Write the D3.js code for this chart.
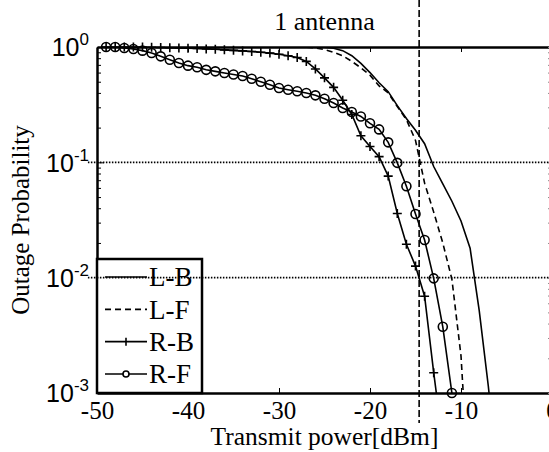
<!DOCTYPE html>
<html>
<head>
<meta charset="utf-8">
<script src="https://cdn.jsdelivr.net/npm/d3@7"></script>
<style>
  body { margin: 0; background: #fff; }
  svg { display: block; font-family: "Liberation Serif", "Times New Roman", serif; }
</style>
</head>
<body>
<svg id="chart" width="549" height="452"></svg>
<script>
// ---- data ----
var seriesNames = ['L-B', 'L-F', 'R-B', 'R-F'];

var lbX = [-50, -26, -25, -24, -23, -22, -21, -20, -19, -18, -17, -16, -15, -14, -13, -12, -11, -10, -9, -8, -7, -6];
var lbY = [1, 1, 0.995, 0.975, 0.93, 0.84, 0.72, 0.6, 0.49, 0.41, 0.31, 0.24, 0.19, 0.145, 0.092, 0.065, 0.046, 0.031, 0.018, 0.0052, 0.00115, 0.0002];

var lfX = [-50, -28, -27, -26, -25, -24, -23, -22, -21, -20, -19, -18, -17, -16, -15, -14, -13, -12, -11, -10, -9];
var lfY = [1, 1, 0.995, 0.98, 0.95, 0.9, 0.84, 0.75, 0.66, 0.57, 0.46, 0.40, 0.305, 0.235, 0.155, 0.066, 0.037, 0.02, 0.0097, 0.0021, 0.0001];

var rbX = [-49, -48, -47, -46, -45, -44, -43, -42, -41, -40, -39, -38, -37, -36, -35, -34, -33, -32, -31, -30,
           -29, -28, -27, -26, -25, -24, -23, -22, -21, -20, -19, -18, -17, -16, -15, -14, -13, -12];
var rbY = [1, 1, 1, 1, 0.998, 0.995, 0.99, 0.985, 0.98, 0.975, 0.97, 0.963, 0.955, 0.945, 0.935, 0.925, 0.915, 0.9, 0.885, 0.865,
           0.84, 0.81, 0.75, 0.645, 0.54, 0.447, 0.345, 0.26, 0.17, 0.137, 0.112, 0.076, 0.036, 0.0195, 0.0126, 0.0069, 0.0015, 0.00037];

var rfX = [-49, -48, -47, -46, -45, -44, -43, -42, -41, -40, -39, -38, -37, -36, -35, -34, -33, -32, -31, -30,
           -29, -28, -27, -26, -25, -24, -23, -22, -21, -20, -19, -18, -17, -16, -15, -14, -13, -12, -11];
var rfY = [1, 1, 0.98, 0.96, 0.93, 0.887, 0.83, 0.776, 0.727, 0.689, 0.667, 0.634, 0.615, 0.595, 0.578, 0.56, 0.53, 0.50, 0.47, 0.441,
           0.426, 0.413, 0.399, 0.381, 0.356, 0.327, 0.296, 0.273, 0.25, 0.218, 0.193, 0.149, 0.099, 0.062, 0.0356, 0.0212, 0.00986, 0.00375, 0.001];

var xTicks = [-50, -40, -30, -20, -10, 0];
var yTicks = [1e-3, 1e-2, 1e-1, 1];
var yExp = ['-3', '-2', '-1', '0'];
var gridLevels = [1e-1, 1e-2];
var markerPower = -14.6;   // the dashed vertical line
var titleText = '1 antenna';
var xLabel = 'Transmit power[dBm]';
var yLabel = 'Outage Probability';

// ---- layout ----
var W = 549, H = 452;
var m = { left: 97, right: 552, top: 47, bottom: 393 };

var svg = d3.select('#chart');

var x = d3.scaleLinear().domain([-50, 0]).range([m.left, m.right]);
var y = d3.scaleLog().domain([1e-3, 1]).range([m.bottom, m.top]);

var series = [
  { name: 'L-B', xs: lbX, ys: lbY, dash: null, marker: null },
  { name: 'L-F', xs: lfX, ys: lfY, dash: '6,4', marker: null },
  { name: 'R-B', xs: rbX, ys: rbY, dash: null, marker: 'plus' },
  { name: 'R-F', xs: rfX, ys: rfY, dash: null, marker: 'circle' }
];

svg.append('defs').append('clipPath').attr('id', 'plotClip')
  .append('rect')
  .attr('x', m.left).attr('y', m.top)
  .attr('width', m.right - m.left).attr('height', m.bottom - m.top);

// minor ticks for the log axis
var minor = [];
[1e-3, 1e-2, 1e-1].forEach(function (dec) {
  for (var k = 2; k <= 9; k++) minor.push(dec * k);
});

// ---- axes ----
svg.append('g')
  .attr('transform', 'translate(0,' + m.bottom + ')')
  .call(d3.axisBottom(x).tickValues(xTicks).tickSizeInner(-5).tickSizeOuter(0).tickPadding(8)
    .tickFormat(function (d) { return String(d); }))
  .call(function (g) {
    g.select('.domain').attr('stroke-width', 2.5);
    g.selectAll('text').attr('font-size', 25).attr('font-family', 'Liberation Serif').attr('fill', '#000');
  });

svg.append('g')
  .attr('transform', 'translate(0,' + m.top + ')')
  .call(d3.axisTop(x).tickValues(xTicks).tickSizeInner(-5).tickSizeOuter(0).tickFormat(''))
  .call(function (g) { g.select('.domain').attr('stroke-width', 2.5); });

var yAx = svg.append('g')
  .attr('transform', 'translate(' + m.left + ',0)')
  .call(d3.axisLeft(y).tickValues(yTicks).tickSizeInner(-7).tickSizeOuter(0).tickPadding(8).tickFormat(''))
  .call(function (g) { g.select('.domain').attr('stroke-width', 2.5); });

yAx.selectAll('.tick').each(function (d, i) {
  var t = d3.select(this).append('text')
    .attr('x', -8).attr('dy', '0.35em')
    .attr('text-anchor', 'end')
    .attr('fill', '#000')
    .attr('font-size', 25);
  t.append('tspan').text('10');
  t.append('tspan').attr('font-size', 17).attr('dy', -11).text(yExp[i]);
});

svg.append('g')
  .attr('transform', 'translate(' + m.left + ',0)')
  .call(d3.axisLeft(y).tickValues(minor).tickSizeInner(-4).tickSizeOuter(0).tickFormat(''))
  .call(function (g) { g.select('.domain').remove(); });

svg.append('g')
  .attr('transform', 'translate(' + m.right + ',0)')
  .call(d3.axisRight(y).tickValues(yTicks.concat(minor)).tickSizeInner(-4).tickSizeOuter(0).tickFormat(''))
  .call(function (g) { g.select('.domain').attr('stroke-width', 2.5); g.selectAll('line').attr('stroke', '#888'); });

// ---- series ----
var plot = svg.append('g').attr('clip-path', 'url(#plotClip)');

series.forEach(function (s) {
  var pts = s.xs.map(function (v, i) { return [v, s.ys[i]]; });
  var line = d3.line()
    .x(function (d) { return x(d[0]); })
    .y(function (d) { return y(d[1]); });

  plot.append('path')
    .datum(pts)
    .attr('d', line)
    .attr('fill', 'none')
    .attr('stroke', '#000')
    .attr('stroke-width', 1.6)
    .attr('stroke-dasharray', s.dash);

  if (!s.marker) return;
  var shown = pts.filter(function (d) { return d[1] >= 1e-3; });
  var mk = svg.append('g');
  if (s.marker === 'circle') {
    mk.selectAll('circle').data(shown).enter().append('circle')
      .attr('cx', function (d) { return x(d[0]); })
      .attr('cy', function (d) { return y(d[1]); })
      .attr('r', 4.5)
      .attr('fill', 'none')
      .attr('stroke', '#000')
      .attr('stroke-width', 1.6);
  } else {
    mk.selectAll('path').data(shown).enter().append('path')
      .attr('d', function (d) {
        var cx = x(d[0]), cy = y(d[1]);
        return 'M' + (cx - 4.5) + ',' + cy + 'H' + (cx + 4.5) + 'M' + cx + ',' + (cy - 4.5) + 'V' + (cy + 4.5);
      })
      .attr('stroke', '#000')
      .attr('stroke-width', 1.6);
  }
});

// ---- legend ----
var lg = svg.append('g');
lg.append('rect')
  .attr('x', 97).attr('y', 259).attr('width', 105).attr('height', 134)
  .attr('fill', '#fff').attr('stroke', '#000').attr('stroke-width', 2.5);

var rowY = d3.scalePoint().domain(seriesNames).range([277, 374]);

series.forEach(function (s) {
  var ry = rowY(s.name);
  lg.append('line')
    .attr('x1', 105).attr('x2', 147).attr('y1', ry).attr('y2', ry)
    .attr('stroke', '#000').attr('stroke-width', 1.6)
    .attr('stroke-dasharray', s.dash);
  if (s.marker === 'circle') {
    lg.append('circle').attr('cx', 126).attr('cy', ry).attr('r', 3)
      .attr('fill', '#fff').attr('stroke', '#000').attr('stroke-width', 1.6);
  } else if (s.marker === 'plus') {
    lg.append('path')
      .attr('d', 'M126,' + (ry - 4) + 'V' + (ry + 4))
      .attr('stroke', '#000').attr('stroke-width', 1.6);
  }
  lg.append('text')
    .attr('x', 149).attr('y', ry).attr('dy', '0.35em')
    .attr('font-size', 27)
    .text(s.name);
});

// ---- dotted reference levels and dashed marker line ----
svg.append('g').selectAll('line').data(gridLevels).enter().append('line')
  .attr('x1', x(-51)).attr('x2', W)
  .attr('y1', function (d) { return y(d); })
  .attr('y2', function (d) { return y(d); })
  .attr('stroke', '#000')
  .attr('stroke-width', 1.6)
  .attr('stroke-dasharray', '1.5,1.5');

svg.append('line')
  .attr('x1', x(markerPower)).attr('x2', x(markerPower))
  .attr('y1', 0).attr('y2', 423)
  .attr('stroke', '#000')
  .attr('stroke-width', 1.6)
  .attr('stroke-dasharray', '7,3');

// ---- titles ----
svg.append('text')
  .attr('x', (m.left + m.right) / 2).attr('y', 30)
  .attr('text-anchor', 'middle')
  .attr('font-size', 26)
  .text(titleText);

svg.append('text')
  .attr('x', (m.left + m.right) / 2).attr('y', 445)
  .attr('text-anchor', 'middle')
  .attr('font-size', 25.5)
  .text(xLabel);

svg.append('text')
  .attr('transform', 'translate(29,' + ((m.top + m.bottom) / 2) + ') rotate(-90)')
  .attr('text-anchor', 'middle')
  .attr('font-size', 25)
  .text(yLabel);
</script>
</body>
</html>
